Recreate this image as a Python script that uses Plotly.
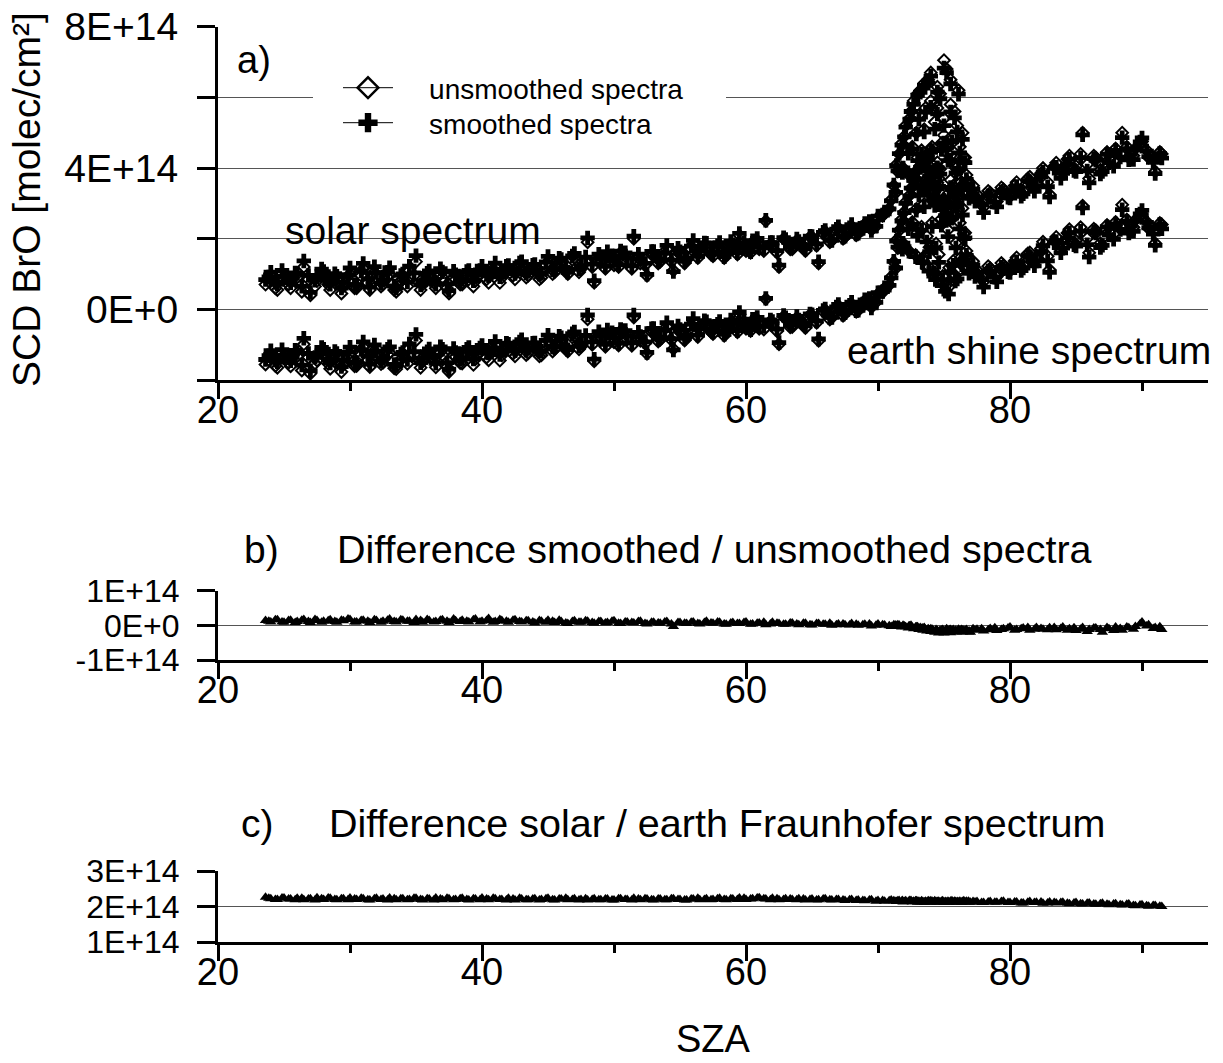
import plotly.graph_objects as go

W, H = 1223, 1063
E14 = 1e14
FONT = "Liberation Sans, Arial, sans-serif"
NB = "\u00a0"


def fx(px):
    return px / W


def fy(py):
    return 1 - py / H


# ---------------- data (values in units of 1E14 molec/cm2) ----------------
# first set of measurements
sza_main = [
    23.6, 24.0, 24.5, 25.0, 25.5, 26.0, 26.5, 27.0, 27.5, 28.0,
    28.5, 29.0, 29.5, 30.0, 30.5, 31.0, 31.5, 32.0, 32.5, 33.0,
    33.5, 34.0, 34.5, 35.0, 35.5, 36.0, 36.5, 37.0, 37.5, 38.0,
    38.5, 39.0, 39.5, 40.0, 40.5, 41.0, 41.5, 42.0, 42.5, 43.0,
    43.5, 44.0, 44.5, 45.0, 45.5, 46.0, 46.5, 47.0, 47.5, 48.0,
    48.5, 49.0, 49.5, 50.0, 50.5, 51.0, 51.5, 52.0, 52.5, 53.0,
    53.5, 54.0, 54.5, 55.0, 55.5, 56.0, 56.5, 57.0, 57.5, 58.0,
    58.5, 59.0, 59.5, 60.0, 60.5, 61.0, 61.5, 62.0, 62.5, 63.0,
    63.5, 64.0, 64.5, 65.0, 65.5, 66.0, 66.5, 67.0, 67.5, 68.0,
    68.5, 69.0, 69.5, 70.0, 70.5, 71.0, 71.5, 72.0, 72.5, 73.0,
    73.5, 74.0, 74.5, 75.0, 75.5, 76.0, 76.5, 77.0, 77.5, 78.0,
    78.5, 79.0, 79.5, 80.0, 80.5, 81.0, 81.5, 82.0, 82.5, 83.0,
    83.5, 84.0, 84.5, 85.0, 85.5, 86.0, 86.5, 87.0, 87.5, 88.0,
    88.5, 89.0, 89.5, 90.0, 90.5, 91.0, 91.5,
]
solar_unsmoothed_main = [
    0.70, 0.95, 0.55, 0.85, 0.60, 0.90, 1.20, 0.40, 0.80, 0.95,
    0.55, 0.85, 0.65, 1.00, 0.60, 1.15, 0.55, 0.90, 0.70, 1.00,
    0.50, 0.85, 1.10, 1.35, 0.70, 0.95, 0.60, 0.90, 0.45, 0.85,
    0.70, 1.00, 0.80, 1.10, 0.75, 1.20, 0.90, 1.15, 0.85, 1.25,
    0.95, 1.20, 0.90, 1.35, 1.05, 1.30, 1.00, 1.45, 1.15, 1.90,
    0.75, 1.35, 1.55, 1.25, 1.60, 1.35, 2.00, 1.30, 0.95, 1.55,
    1.35, 1.70, 1.10, 1.55, 1.40, 1.85, 1.60, 1.75, 1.50, 1.80,
    1.55, 1.75, 2.10, 1.65, 1.90, 1.70, 2.50, 1.80, 1.20, 1.95,
    1.70, 1.90, 1.65, 2.05, 1.30, 2.20, 1.95, 2.30, 2.05, 2.35,
    2.15, 2.40, 2.25, 2.60, 2.75, 3.10, 3.90, 4.90, 5.60, 6.10,
    6.40, 6.70, 6.30, 7.05, 6.50, 5.20, 4.30, 3.40, 3.25, 2.90,
    3.30, 3.05, 3.40, 3.20, 3.60, 3.35, 3.75, 3.55, 4.00, 3.25,
    4.15, 3.90, 4.35, 4.05, 5.00, 3.70, 4.30, 4.10, 4.25, 4.55,
    5.00, 4.30, 4.55, 4.75, 4.30, 3.90, 4.40,
]
diff_smoothed_main = [
    0.14, 0.10, 0.16, 0.09, 0.15, 0.11, 0.17, 0.08, 0.14, 0.12,
    0.16, 0.09, 0.13, 0.17, 0.10, 0.15, 0.08, 0.14, 0.12, 0.18,
    0.10, 0.15, 0.12, 0.17, 0.09, 0.14, 0.11, 0.16, 0.08, 0.13,
    0.15, 0.10, 0.18, 0.12, 0.20, 0.11, 0.14, 0.09, 0.16, 0.10,
    0.13, 0.07, 0.12, 0.15, 0.08, 0.11, 0.05, 0.13, 0.09, 0.12,
    0.06, 0.11, 0.08, 0.13, 0.05, 0.10, 0.07, 0.12, 0.04, 0.09,
    0.06, 0.11, -0.03, 0.08, 0.05, 0.10, 0.04, 0.12, 0.06, 0.09,
    0.03, 0.08, 0.05, 0.10, 0.04, 0.07, 0.02, 0.09, 0.05, 0.03,
    0.07, 0.02, 0.06, 0.01, 0.05, 0.03, 0.00, 0.04, 0.02, 0.05,
    0.00, 0.03, -0.02, 0.04, 0.01, -0.03, 0.02, -0.02, 0.00, -0.04,
    -0.06, -0.10, -0.15, -0.22, -0.12, -0.18, -0.14, -0.20, -0.11, -0.16,
    -0.09, -0.15, -0.10, -0.05, -0.12, -0.08, -0.14, -0.06, -0.11, -0.07,
    -0.13, -0.05, -0.10, -0.15, -0.06, -0.12, -0.08, -0.20, -0.10, -0.05,
    -0.14, -0.07, -0.03, 0.10, 0.02, -0.06, -0.12,
]
diff_solar_earth_main = [
    2.26, 2.22, 2.20, 2.24, 2.21, 2.23, 2.19, 2.22, 2.25, 2.20,
    2.23, 2.19, 2.22, 2.24, 2.20, 2.22, 2.18, 2.23, 2.21, 2.24,
    2.19, 2.22, 2.20, 2.23, 2.18, 2.21, 2.24, 2.19, 2.22, 2.20,
    2.23, 2.18, 2.21, 2.24, 2.19, 2.22, 2.20, 2.23, 2.18, 2.21,
    2.19, 2.22, 2.20, 2.23, 2.18, 2.21, 2.19, 2.22, 2.20, 2.18,
    2.22, 2.19, 2.21, 2.18, 2.22, 2.20, 2.23, 2.19, 2.21, 2.18,
    2.21, 2.19, 2.22, 2.20, 2.18, 2.21, 2.19, 2.22, 2.20, 2.23,
    2.19, 2.21, 2.24, 2.20, 2.22, 2.25, 2.21, 2.23, 2.19, 2.22,
    2.20, 2.22, 2.18, 2.21, 2.19, 2.22, 2.18, 2.20, 2.17, 2.20,
    2.18, 2.16, 2.19, 2.17, 2.15, 2.18, 2.16, 2.14, 2.17, 2.15,
    2.13, 2.16, 2.14, 2.12, 2.15, 2.13, 2.16, 2.12, 2.14, 2.11,
    2.14, 2.12, 2.15, 2.11, 2.13, 2.10, 2.14, 2.12, 2.09, 2.13,
    2.10, 2.12, 2.08, 2.11, 2.07, 2.10, 2.06, 2.09, 2.05, 2.08,
    2.04, 2.07, 2.02, 2.05, 2.01, 2.03, 2.00,
]

# second set of measurements (interleaved)
sza_pass2 = [
    23.85, 24.35, 24.85, 25.35, 25.85, 26.35, 26.85, 27.35, 27.85, 28.35,
    28.85, 29.35, 29.85, 30.35, 30.85, 31.35, 31.85, 32.35, 32.85, 33.35,
    33.85, 34.35, 34.85, 35.35, 35.85, 36.35, 36.85, 37.35, 37.85, 38.35,
    38.85, 39.35, 39.85, 40.35, 40.85, 41.35, 41.85, 42.35, 42.85, 43.35,
    43.85, 44.35, 44.85, 45.35, 45.85, 46.35, 46.85, 47.35, 47.85, 48.35,
    48.85, 49.35, 49.85, 50.35, 50.85, 51.35, 51.85, 52.35, 52.85, 53.35,
    53.85, 54.35, 54.85, 55.35, 55.85, 56.35, 56.85, 57.35, 57.85, 58.35,
    58.85, 59.35, 59.85, 60.35, 60.85, 61.35, 61.85, 62.35, 62.85, 63.35,
    63.85, 64.35, 64.85, 65.35, 65.85, 66.35, 66.85, 67.35, 67.85, 68.35,
    68.85, 69.35, 69.85, 70.35, 70.85, 71.35, 71.85, 72.35, 72.85, 73.35,
    73.85, 74.35, 74.85, 75.35, 75.85, 76.35, 76.85, 77.35, 77.85, 78.35,
    78.85, 79.35, 79.85, 80.35, 80.85, 81.35, 81.85, 82.35, 82.85, 83.35,
    83.85, 84.35, 84.85, 85.35, 85.85, 86.35, 86.85, 87.35, 87.85, 88.35,
    88.85, 89.35, 89.85, 90.35, 90.85, 91.35,
]
solar_unsmoothed_pass2 = [
    0.80, 0.60, 1.00, 0.70, 0.95, 0.50, 0.85, 0.65, 1.05, 0.70,
    0.90, 0.45, 0.80, 0.60, 0.95, 0.75, 1.05, 0.65, 0.90, 0.55,
    0.80, 0.65, 0.95, 0.55, 0.85, 0.75, 1.00, 0.60, 0.90, 0.70,
    0.95, 0.65, 1.00, 0.85, 1.05, 0.75, 1.10, 0.95, 1.20, 0.90,
    1.15, 0.85, 1.25, 1.00, 1.30, 1.10, 1.40, 1.05, 1.35, 1.20,
    1.45, 1.15, 1.40, 1.20, 1.50, 1.15, 1.45, 1.25, 1.55, 1.30,
    1.50, 1.35, 1.65, 1.30, 1.70, 1.45, 1.80, 1.55, 1.70, 1.45,
    1.85, 1.55, 1.80, 1.60, 1.95, 1.65, 1.85, 1.60, 2.00, 1.70,
    1.95, 1.75, 2.05, 1.80, 2.15, 1.90, 2.25, 2.00, 2.30, 2.10,
    2.30, 2.45, 2.35, 2.65, 2.85, 3.30, 3.90, 3.80, 3.70, 3.55,
    3.35, 3.15, 2.95, 2.75, 3.10, 3.50, 3.60, 3.20, 3.05, 3.35,
    3.10, 3.45, 3.25, 3.50, 3.30, 3.70, 3.45, 3.85, 3.60, 4.05,
    3.80, 4.25, 4.00, 4.40, 4.10, 4.35, 3.95, 4.45, 4.20, 4.40,
    4.60, 4.35, 4.70, 4.50, 4.25, 4.45,
]
diff_smoothed_pass2 = [
    0.12, 0.16, 0.10, 0.14, 0.08, 0.15, 0.11, 0.17, 0.09, 0.13,
    0.11, 0.15, 0.18, 0.10, 0.14, 0.12, 0.16, 0.09, 0.15, 0.11,
    0.16, 0.12, 0.08, 0.14, 0.17, 0.10, 0.15, 0.12, 0.18, 0.11,
    0.12, 0.16, 0.10, 0.14, 0.09, 0.17, 0.12, 0.15, 0.11, 0.13,
    0.10, 0.14, 0.09, 0.12, 0.15, 0.07, 0.11, 0.09, 0.13, 0.08,
    0.11, 0.07, 0.12, 0.06, 0.10, 0.08, 0.11, 0.05, 0.09, 0.07,
    0.10, 0.04, 0.08, 0.06, 0.09, 0.05, 0.08, 0.07, 0.10, 0.04,
    0.07, 0.05, 0.08, 0.03, 0.06, 0.09, 0.04, 0.06, 0.03, 0.07,
    0.04, 0.06, 0.02, 0.05, 0.03, 0.06, 0.02, 0.04, 0.01, 0.03,
    0.02, 0.04, 0.00, 0.02, -0.01, 0.01, -0.03, -0.01, -0.05, -0.08,
    -0.12, -0.18, -0.13, -0.20, -0.16, -0.12, -0.19, -0.14, -0.10, -0.13,
    -0.07, -0.12, -0.08, -0.14, -0.10, -0.06, -0.11, -0.09, -0.13, -0.06,
    -0.09, -0.14, -0.07, -0.11, -0.18, -0.08, -0.12, -0.06, -0.15, -0.09,
    -0.05, -0.11, 0.04, -0.02, -0.09, -0.04,
]
diff_solar_earth_pass2 = [
    2.23, 2.20, 2.24, 2.21, 2.19, 2.23, 2.21, 2.18, 2.22, 2.24,
    2.20, 2.22, 2.19, 2.21, 2.23, 2.19, 2.22, 2.20, 2.18, 2.22,
    2.22, 2.19, 2.23, 2.20, 2.22, 2.18, 2.21, 2.23, 2.19, 2.22,
    2.20, 2.22, 2.19, 2.21, 2.23, 2.20, 2.18, 2.21, 2.23, 2.19,
    2.21, 2.18, 2.22, 2.19, 2.21, 2.23, 2.20, 2.18, 2.22, 2.20,
    2.19, 2.21, 2.18, 2.22, 2.20, 2.18, 2.21, 2.22, 2.19, 2.21,
    2.19, 2.22, 2.20, 2.18, 2.21, 2.23, 2.20, 2.19, 2.22, 2.20,
    2.22, 2.20, 2.23, 2.21, 2.24, 2.22, 2.19, 2.22, 2.20, 2.21,
    2.19, 2.21, 2.20, 2.18, 2.21, 2.19, 2.20, 2.18, 2.19, 2.17,
    2.17, 2.18, 2.15, 2.17, 2.16, 2.14, 2.17, 2.15, 2.16, 2.13,
    2.15, 2.13, 2.15, 2.12, 2.14, 2.12, 2.15, 2.13, 2.11, 2.13,
    2.12, 2.14, 2.11, 2.13, 2.10, 2.12, 2.11, 2.13, 2.10, 2.11,
    2.11, 2.09, 2.10, 2.08, 2.09, 2.07, 2.08, 2.06, 2.07, 2.05,
    2.06, 2.03, 2.04, 2.02, 2.03, 2.01,
]

# extra orbits crossing the polar-vortex edge (the peak near SZA 75)
sza_peak = [
    71.2, 71.4, 71.6, 71.8, 71.9, 72.1, 72.3, 72.4, 72.6, 72.7,
    72.9, 73.0, 73.1, 73.2, 73.3, 73.4, 73.5, 73.6, 73.7, 73.8,
    73.9, 74.0, 74.1, 74.2, 74.3, 74.4, 74.5, 74.6, 74.7, 74.8,
    74.9, 75.0, 75.1, 75.2, 75.3, 75.4, 75.5, 75.6, 75.7, 75.8,
    75.9, 76.0, 76.1, 76.2, 76.3, 76.4, 76.6, 76.7, 76.9, 77.2,
]
solar_unsmoothed_peak = [
    3.50, 4.10, 4.40, 4.70, 4.00, 5.20, 4.50, 5.40, 4.60, 5.90,
    5.00, 4.30, 5.50, 6.20, 4.50, 3.60, 5.10, 5.70, 4.20, 6.50,
    3.90, 5.90, 4.60, 3.30, 5.30, 4.00, 5.70, 3.70, 6.10, 4.70,
    3.10, 5.40, 2.80, 6.80, 4.40, 3.30, 5.80, 4.90, 3.50, 5.60,
    4.00, 3.20, 6.20, 4.60, 3.60, 5.00, 4.30, 3.80, 3.30, 3.50,
]
diff_smoothed_peak = [
    0.02, -0.03, 0.01, -0.05, 0.00, -0.04, -0.08, -0.02, -0.06, -0.10,
    -0.04, -0.09, -0.12, -0.06, -0.10, -0.14, -0.08, -0.12, -0.16, -0.10,
    -0.13, -0.18, -0.11, -0.15, -0.20, -0.12, -0.17, -0.22, -0.14, -0.18,
    -0.12, -0.20, -0.15, -0.10, -0.19, -0.13, -0.21, -0.16, -0.12, -0.18,
    -0.14, -0.20, -0.11, -0.17, -0.13, -0.19, -0.15, -0.12, -0.16, -0.10,
]
diff_solar_earth_peak = [
    2.16, 2.14, 2.17, 2.15, 2.13, 2.16, 2.14, 2.17, 2.13, 2.15,
    2.16, 2.12, 2.15, 2.13, 2.16, 2.14, 2.12, 2.15, 2.13, 2.16,
    2.14, 2.12, 2.15, 2.13, 2.16, 2.14, 2.12, 2.15, 2.13, 2.14,
    2.16, 2.12, 2.14, 2.13, 2.15, 2.12, 2.14, 2.16, 2.13, 2.15,
    2.12, 2.14, 2.13, 2.15, 2.12, 2.14, 2.13, 2.15, 2.12, 2.14,
]

# tick labels
x_ticks = [20, 40, 60, 80]
ya_tickvals = [-2, 0, 2, 4, 6, 8]
ya_ticktext = ["", "0E+0", "", "4E+14", "", "8E+14"]
yb_tickvals = [-1, 0, 1]
yb_ticktext = ["-1E+14", "0E+0", "1E+14"]
yc_tickvals = [1, 2, 3]
yc_ticktext = ["1E+14", "2E+14", "3E+14"]

# ---------------- derived series ----------------
sza = sza_main + sza_pass2 + sza_peak
solar_u = solar_unsmoothed_main + solar_unsmoothed_pass2 + solar_unsmoothed_peak
d_sm = diff_smoothed_main + diff_smoothed_pass2 + diff_smoothed_peak
d_se = diff_solar_earth_main + diff_solar_earth_pass2 + diff_solar_earth_peak

solar_unsm = [u * E14 for u in solar_u]
solar_sm = [(u + d) * E14 for u, d in zip(solar_u, d_sm)]
earth_unsm = [(u - c) * E14 for u, c in zip(solar_u, d_se)]
earth_sm = [(u + d - c) * E14 for u, d, c in zip(solar_u, d_sm, d_se)]
diff_b = [d * E14 for d in d_sm]
diff_c = [c * E14 for c in d_se]

fig = go.Figure()

cross = dict(symbol="cross", size=12, color="black", line=dict(width=0))
diamond = dict(symbol="diamond-open", size=9, color="black", line=dict(width=2, color="black"))
tri = dict(symbol="triangle-up", size=10, color="black", line=dict(width=0))

for ys in (solar_unsm, earth_unsm):
    fig.add_trace(go.Scatter(x=sza, y=ys, mode="markers", marker=diamond,
                             showlegend=False, xaxis="x", yaxis="y"))
for ys in (solar_sm, earth_sm):
    fig.add_trace(go.Scatter(x=sza, y=ys, mode="markers", marker=cross,
                             showlegend=False, xaxis="x", yaxis="y"))

# legend entries
fig.add_trace(go.Scatter(x=[None], y=[None], mode="lines+markers",
                         name=NB * 4 + "unsmoothed spectra", legend="legend",
                         line=dict(color="black", width=1),
                         marker=dict(symbol="diamond-open", size=16, color="black",
                                     line=dict(width=2.5, color="black")),
                         xaxis="x", yaxis="y"))
fig.add_trace(go.Scatter(x=[None], y=[None], mode="lines+markers",
                         name=NB * 4 + "smoothed spectra", legend="legend2",
                         line=dict(color="black", width=1),
                         marker=dict(symbol="cross", size=16, color="black", line=dict(width=0)),
                         xaxis="x", yaxis="y"))

fig.add_trace(go.Scatter(x=sza, y=diff_b, mode="markers", marker=tri,
                         showlegend=False, xaxis="x2", yaxis="y2"))
fig.add_trace(go.Scatter(x=sza, y=diff_c, mode="markers", marker=tri,
                         showlegend=False, xaxis="x3", yaxis="y3"))

xtickfont = dict(family=FONT, size=38, color="black")
xdom = [fx(218), fx(1208)]


def xaxis(anchor):
    return dict(domain=xdom, anchor=anchor, range=[20, 95], tickvals=x_ticks,
                ticks="outside", ticklen=16, tickwidth=3, tickcolor="black",
                ticklabelstandoff=-22,
                showline=True, linewidth=3, linecolor="black", showgrid=False,
                zeroline=False, tickfont=xtickfont, automargin=False,
                minor=dict(dtick=10, tick0=0, ticks="outside", ticklen=8,
                           tickwidth=3, tickcolor="black", showgrid=False))


def yaxis(anchor, top, bottom, rng, vals, text, fsize):
    return dict(domain=[fy(bottom), fy(top)], anchor=anchor, range=rng,
                tickvals=[v * E14 for v in vals], ticktext=text,
                ticks="outside", ticklen=18, tickwidth=3, tickcolor="black",
                ticklabelstandoff=11,
                showline=True, linewidth=3, linecolor="black",
                showgrid=True, gridcolor="#555555", gridwidth=1,
                zeroline=False, automargin=False,
                tickfont=dict(family=FONT, size=fsize, color="black"))


legend_common = dict(xanchor="left", yanchor="middle", bgcolor="rgba(0,0,0,0)",
                     borderwidth=0, font=dict(family=FONT, size=28, color="black"),
                     itemwidth=50, tracegroupgap=0)

fig.update_layout(
    width=W, height=H,
    margin=dict(l=0, r=0, t=0, b=0, pad=0, autoexpand=False),
    paper_bgcolor="white", plot_bgcolor="white",
    font=dict(family=FONT, color="black"),
    xaxis=xaxis("y"),
    yaxis=yaxis("x", 26.7, 380, [-2 * E14, 8 * E14], ya_tickvals, ya_ticktext, 39),
    xaxis2=xaxis("y2"),
    yaxis2=yaxis("x2", 590.7, 660, [-1 * E14, 1 * E14], yb_tickvals, yb_ticktext, 32),
    xaxis3=xaxis("y3"),
    yaxis3=yaxis("x3", 871, 942, [1 * E14, 3 * E14], yc_tickvals, yc_ticktext, 32),
    legend=dict(x=fx(338), y=fy(88), **legend_common),
    legend2=dict(x=fx(338), y=fy(123), **legend_common),
    showlegend=True,
)

# white box behind legend (hides the 6E+14 grid line as in the original)
fig.add_shape(type="rect", xref="paper", yref="paper",
              x0=fx(313), x1=fx(726), y0=fy(118), y1=fy(80),
              fillcolor="white", line=dict(width=0), layer="above")

ann = [
    ("a)", 236, 60, 38, "left", "middle"),
    ("solar spectrum", 284, 231, 39, "left", "middle"),
    ("earth shine spectrum", 846, 350, 39, "left", "middle"),
    ("b)", 243, 549, 39, "left", "middle"),
    ("Difference smoothed / unsmoothed spectra", 336, 549, 39.5, "left", "middle"),
    ("c)", 240, 823, 39, "left", "middle"),
    ("Difference solar / earth Fraunhofer spectrum", 328, 823, 39.5, "left", "middle"),
    ("SZA", 713, 1061, 38, "center", "bottom"),
]
for text, x, y, size, xa, ya in ann:
    fig.add_annotation(text=text, xref="paper", yref="paper", x=fx(x), y=fy(y),
                       xanchor=xa, yanchor=ya, showarrow=False, borderpad=0,
                       font=dict(family=FONT, size=size, color="black"))

fig.add_annotation(text="SCD BrO [molec/cm²]", xref="paper", yref="paper",
                   x=fx(27), y=fy(200), textangle=-90, xanchor="center", yanchor="middle",
                   showarrow=False, font=dict(family=FONT, size=39, color="black"))

fig.write_html("out.html")
